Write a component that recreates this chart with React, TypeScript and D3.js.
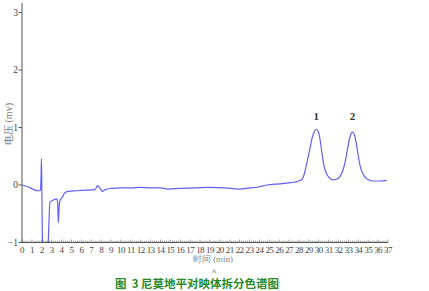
import React from "react";
import * as d3 from "d3";

// Chromatogram trace: retention time (min) and detector response (mV)
const times = [
  0, 0.6, 1.2, 1.65, 1.85, 1.92, 1.97, 2.02, 2.1, 2.55, 2.65, 2.83, 3.17, 3.5, 3.6, 3.67, 3.75, 3.84,
  4.08, 4.35, 4.68, 5.5, 6.5, 7.38, 7.65, 7.9, 8.12, 8.4, 9, 10, 11, 12, 13, 14, 14.7, 16, 17.5, 19,
  20.5, 22, 23, 24, 24.8, 26, 27.1, 27.8, 28.28, 28.55, 28.78, 29.05, 29.29, 29.55, 29.75, 29.95,
  30.15, 30.35, 30.55, 30.8, 31.1, 31.47, 31.8, 32.15, 32.45, 32.65, 32.9, 33.15, 33.4, 33.6, 33.8,
  34.0, 34.2, 34.45, 34.85, 35.5, 36.2, 36.87,
];
const signal = [
  0, -0.03, -0.08, -0.1, -0.1, 0.1, 0.46, -0.3, -1.3, -1.3, -1.0, -0.3, -0.26, -0.24, -0.3, -0.66,
  -0.4, -0.27, -0.21, -0.13, -0.11, -0.1, -0.09, -0.08, -0.01, -0.06, -0.11, -0.08, -0.06, -0.05,
  -0.05, -0.04, -0.05, -0.05, -0.07, -0.06, -0.05, -0.04, -0.05, -0.07, -0.05, -0.03, 0.0, 0.02, 0.04,
  0.06, 0.09, 0.2, 0.37, 0.58, 0.79, 0.93, 0.97, 0.93, 0.77, 0.52, 0.32, 0.19, 0.12, 0.09, 0.1, 0.15,
  0.26, 0.39, 0.62, 0.83, 0.92, 0.88, 0.72, 0.5, 0.32, 0.2, 0.11, 0.07, 0.07, 0.08,
];

const xTicks = d3.range(0, 38);
const yTicks = [-1, 0, 1, 2, 3];
const peakLabels = ["1", "2"];
const peakTimes = [29.75, 33.4];

const W = 429;
const H = 291;

export default function App() {
  const x = d3.scaleLinear().domain([0, 37]).range([22, 388]);
  const y = d3.scaleLinear().domain([-1, 3]).range([242.5, 12.5]);

  const data = times.map((t, i) => [t, signal[i]] as [number, number]);
  const line = d3
    .line<[number, number]>()
    .x((d) => x(d[0]))
    .y((d) => y(d[1]))
    .curve(d3.curveMonotoneX);

  const minor = d3.range(0, 37.001, 0.2);
  const axisColor = "#555";
  const serif = "'Liberation Serif', 'DejaVu Serif', serif";

  return (
    <svg
      width={W}
      height={H}
      style={{ position: "absolute", left: 0, top: 0, background: "#fff" }}
    >
      <defs>
        <clipPath id="plot">
          <rect x={22} y={0} width={380} height={y(-1) - 0} />
        </clipPath>
      </defs>

      {/* trace */}
      <path
        d={line(data) || ""}
        fill="none"
        stroke="#6060f4"
        strokeWidth={1.2}
        clipPath="url(#plot)"
      />

      {/* y axis */}
      <line x1={22} x2={22} y1={3} y2={y(-1)} stroke={axisColor} strokeWidth={1} />
      {yTicks.map((v) => (
        <g key={v}>
          <line x1={18.5} x2={22} y1={y(v)} y2={y(v)} stroke={axisColor} />
          <text
            x={18}
            y={y(v) + 3}
            textAnchor="end"
            fontSize={9.5}
            fontFamily={serif}
            fill="#444"
          >
            {v < 0 ? "\u2212" + Math.abs(v) : v}
          </text>
        </g>
      ))}
      <text
        transform={`translate(12,124) rotate(-90)`}
        textAnchor="middle"
        fontSize={10}
        fontFamily={serif}
        fill="#777"
      >
        电压 (mv)
      </text>

      {/* x axis */}
      <line x1={22} x2={388} y1={y(-1)} y2={y(-1)} stroke={axisColor} strokeWidth={1} />
      {minor.map((t, i) => (
        <line
          key={i}
          x1={x(t)}
          x2={x(t)}
          y1={y(-1)}
          y2={y(-1) - (i % 5 === 0 ? 3 : 1.8)}
          stroke={axisColor}
          strokeWidth={0.6}
        />
      ))}
      {xTicks.map((t) => (
        <text
          key={t}
          x={x(t)}
          y={y(-1) + 10}
          textAnchor="middle"
          fontSize={9}
          fontFamily={serif}
          letterSpacing={-0.6}
          fill="#444"
        >
          {t}
        </text>
      ))}
      <text
        x={213}
        y={262}
        textAnchor="middle"
        fontSize={9}
        fontFamily={serif}
        fill="#888"
      >
        时间 (min)
      </text>
      <text x={214} y={273} textAnchor="middle" fontSize={7} fontFamily={serif} fill="#888">
        A
      </text>

      {/* peak numbers */}
      {peakLabels.map((lab, i) => (
        <text
          key={lab}
          x={x(peakTimes[i])}
          y={120}
          textAnchor="middle"
          fontSize={11}
          fontWeight="bold"
          fontFamily={serif}
          fill="#333"
        >
          {lab}
        </text>
      ))}

      {/* figure caption */}
      <text
        x={197}
        y={288}
        textAnchor="middle"
        fontSize={11.5}
        fontWeight="bold"
        fontFamily="'Noto Sans CJK SC', sans-serif"
        fill="#2a8a2a"
        style={{ whiteSpace: "pre" }}
      >
        {"图  3 尼莫地平对映体拆分色谱图"}
      </text>
    </svg>
  );
}
